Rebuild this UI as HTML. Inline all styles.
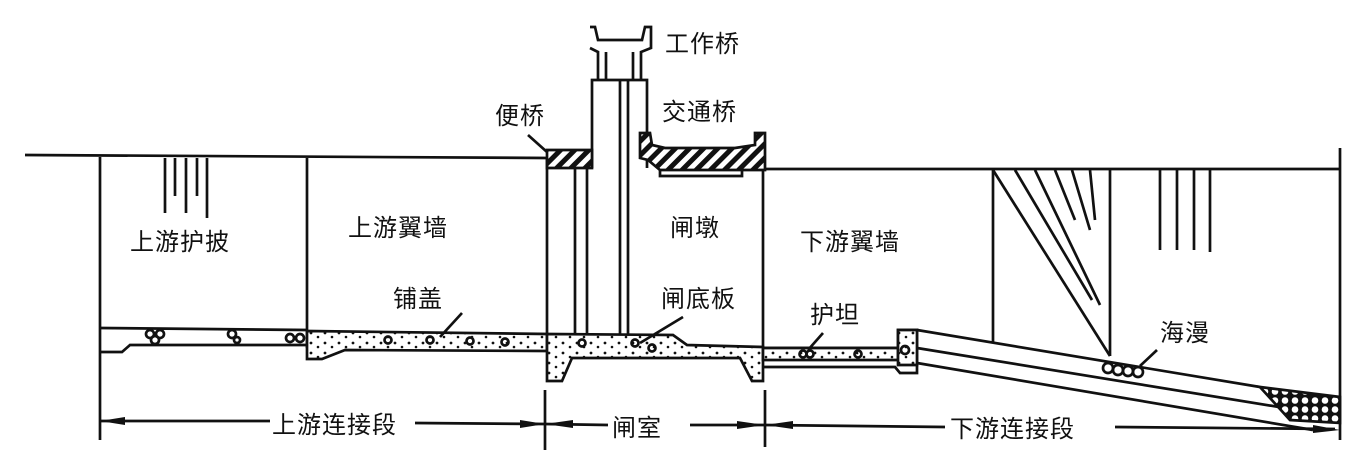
<!DOCTYPE html>
<html><head><meta charset="utf-8"><style>
html,body{margin:0;padding:0;background:#fff;}
svg{display:block;}
text{font-family:"Liberation Sans","Noto Sans CJK SC",sans-serif;font-size:24px;fill:#111;letter-spacing:1px;}
</style></head><body>
<svg width="1371" height="471" viewBox="0 0 1371 471" xmlns="http://www.w3.org/2000/svg">
<defs>
<pattern id="hatch" width="10" height="10" patternUnits="userSpaceOnUse" patternTransform="rotate(45)">
<rect width="10" height="10" fill="#fff"/><rect width="5" height="10" fill="#111"/></pattern>
<pattern id="dots" width="14" height="10" patternUnits="userSpaceOnUse">
<rect width="14" height="10" fill="#fff"/><circle cx="3" cy="3" r="1.4" fill="#111"/><circle cx="10" cy="7" r="1.3" fill="#111"/></pattern>
<pattern id="rub" width="10" height="9" patternUnits="userSpaceOnUse">
<rect width="10" height="9" fill="#111"/><circle cx="5" cy="4.5" r="3.3" fill="#fff"/></pattern>
</defs>
<g stroke="#111" stroke-width="2.7" fill="none">
<line x1="25" y1="155" x2="547" y2="158"/>
<line x1="763" y1="169" x2="1340" y2="169"/>
<line x1="1340" y1="148" x2="1340" y2="440"/>
<line x1="100" y1="157" x2="100" y2="440"/>
<line x1="307" y1="158" x2="307" y2="348"/>
<line x1="165" y1="158" x2="165" y2="213"/><line x1="175" y1="158" x2="175" y2="196"/>
<line x1="186" y1="158" x2="186" y2="213"/><line x1="197" y1="158" x2="197" y2="196"/>
<line x1="207" y1="158" x2="207" y2="218"/>
<path d="M100 328 L307 330 M100 352 L122 352 L130 345 L307 345"/>
<path d="M307 331 L547 334 L547 351 L345 350 L322 359 L307 359 Z" fill="url(#dots)"/>
<path d="M547 334 L673 335 L687 345 L763 347 L763 381 L752 381 L740 358 L572 358 L562 381 L547 381 Z" fill="url(#dots)"/>
<line x1="547" y1="158" x2="547" y2="334"/>
<line x1="763" y1="168" x2="763" y2="347"/>
<line x1="575" y1="168" x2="575" y2="334"/><line x1="587" y1="168" x2="587" y2="334"/>
<line x1="620" y1="80" x2="620" y2="334"/><line x1="628" y1="80" x2="628" y2="334"/>
<path d="M592 168 L592 80 L647 80 L647 168"/>
<path d="M547 150 L592 150 L592 168 L547 168 Z" fill="url(#hatch)"/>
<line x1="528" y1="135" x2="547" y2="152"/>
<path d="M590 27 L595 27 L598 40 L642 40 L645 27 L651 27 L651 48 L641 52 L641 80 M633 52 L633 80 M606 52 L606 80 M598 52 L598 80 L598 52 L590 48 Z"/>
<path d="M640 133 L650 133 L652 145 L665 148 L735 148 L755 145 L755 133 L765 133 L765 170 L750 170 L660 170 L648 160 L640 158 Z" fill="url(#hatch)"/>
<path d="M660 170 L660 176 L742 176 L742 170"/>
<path d="M763 348 L898 348 L898 330 L917 330 L917 373 L900 373 L895 367 L763 367" />
<path d="M763 348 L898 348 L898 360 L763 360 Z" fill="url(#dots)"/>
<path d="M898 330 L917 330 L917 365 L898 365 Z" fill="url(#dots)"/>
<line x1="917" y1="330" x2="1260" y2="387"/>
<line x1="917" y1="348" x2="1285" y2="408"/>
<line x1="917" y1="363" x2="1313" y2="430"/>
<path d="M1260 387 L1340 397 L1340 423 L1290 420 Z" fill="url(#rub)"/>
<line x1="993" y1="170" x2="993" y2="343"/>
<line x1="1110" y1="170" x2="1110" y2="356"/>
<line x1="993" y1="170" x2="1110" y2="356"/>
<line x1="1015" y1="170" x2="1092" y2="300"/><line x1="1035" y1="170" x2="1100" y2="305"/>
<line x1="1055" y1="170" x2="1075" y2="220"/><line x1="1072" y1="170" x2="1090" y2="230"/>
<line x1="1090" y1="170" x2="1095" y2="220"/>
<line x1="1160" y1="170" x2="1160" y2="250"/><line x1="1177" y1="170" x2="1177" y2="250"/>
<line x1="1194" y1="170" x2="1194" y2="250"/><line x1="1210" y1="170" x2="1210" y2="252"/>
<circle cx="1108" cy="368" r="5"/><circle cx="1118" cy="370" r="5"/><circle cx="1128" cy="371" r="5"/><circle cx="1138" cy="372" r="5"/>
<circle cx="150" cy="334" r="4"/><circle cx="160" cy="334" r="4"/><circle cx="155" cy="340" r="4"/><circle cx="232" cy="334" r="4"/><circle cx="237" cy="340" r="3"/><circle cx="290" cy="338" r="4"/><circle cx="300" cy="338" r="4"/>
<circle cx="388" cy="340" r="3.5"/><circle cx="430" cy="340" r="3.5"/><circle cx="470" cy="341" r="3.5"/><circle cx="505" cy="342" r="3.5"/>
<circle cx="582" cy="343" r="3.5"/><circle cx="635" cy="343" r="3.5"/><circle cx="652" cy="348" r="3.5"/>
<circle cx="803" cy="354" r="3.5"/><circle cx="810" cy="354" r="3.5"/><circle cx="858" cy="354" r="3.5"/><circle cx="905" cy="350" r="4"/>
<line x1="462" y1="313" x2="440" y2="337"/>
<line x1="683" y1="317" x2="640" y2="343"/>
<line x1="823" y1="333" x2="808" y2="350"/>
<line x1="1157" y1="350" x2="1140" y2="366"/>
<line x1="545" y1="390" x2="545" y2="450"/>
<line x1="765" y1="390" x2="765" y2="447"/>
<line x1="100" y1="421" x2="270" y2="421"/>
<line x1="415" y1="423" x2="545" y2="424"/>
<line x1="545" y1="424" x2="608" y2="425"/>
<line x1="690" y1="425" x2="765" y2="425"/>
<line x1="765" y1="425" x2="945" y2="427"/>
<line x1="1115" y1="427" x2="1335" y2="429"/>
</g>
<g fill="#111">
<polygon points="100,421 125,417 125,425"/>
<polygon points="545,424 520,420 520,428"/>
<polygon points="545,424 573,420 573,428"/>
<polygon points="765,425 737,421 737,429"/>
<polygon points="765,425 793,421 793,429"/>
<polygon points="1340,430 1313,425 1313,433"/>
</g>
<text x="130" y="250">上游护披</text>
<text x="348" y="236">上游翼墙</text>
<text x="393" y="307">铺盖</text>
<text x="670" y="236">闸墩</text>
<text x="661" y="307">闸底板</text>
<text x="495" y="124">便桥</text>
<text x="665" y="52">工作桥</text>
<text x="662" y="120">交通桥</text>
<text x="800" y="250">下游翼墙</text>
<text x="810" y="323">护坦</text>
<text x="1160" y="341">海漫</text>
<text x="272" y="433">上游连接段</text>
<text x="612" y="436">闸室</text>
<text x="950" y="437">下游连接段</text>
</svg>
</body></html>
